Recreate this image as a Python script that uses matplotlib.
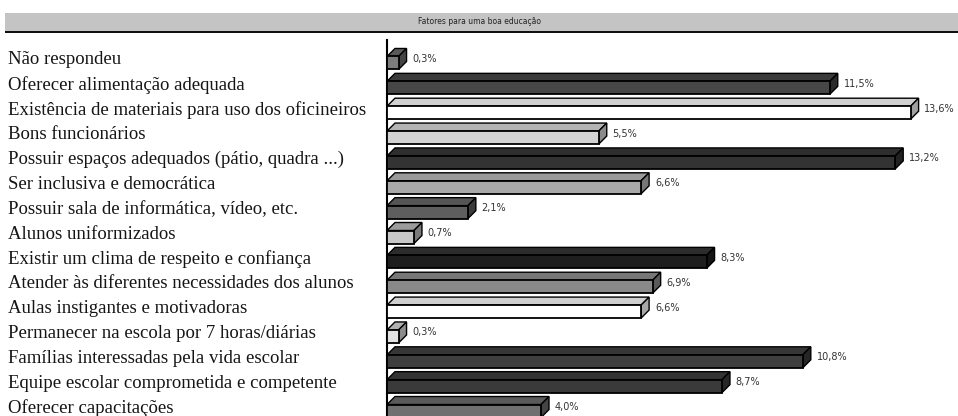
import matplotlib.pyplot as plt
from matplotlib.patches import Polygon, Rectangle
from matplotlib.transforms import blended_transform_factory

# Fatores apontados para uma boa educação (%)
fatores = [
    "Não respondeu",
    "Oferecer alimentação adequada",
    "Existência de materiais para uso dos oficineiros",
    "Bons funcionários",
    "Possuir espaços adequados (pátio, quadra ...)",
    "Ser inclusiva e democrática",
    "Possuir sala de informática, vídeo, etc.",
    "Alunos uniformizados",
    "Existir um clima de respeito e confiança",
    "Atender às diferentes necessidades dos alunos",
    "Aulas instigantes e motivadoras",
    "Permanecer na escola por 7 horas/diárias",
    "Famílias interessadas pela vida escolar",
    "Equipe escolar comprometida e competente",
    "Oferecer capacitações",
]
percentuais = [0.3, 11.5, 13.6, 5.5, 13.2, 6.6, 2.1, 0.7, 8.3, 6.9, 6.6, 0.3, 10.8, 8.7, 4.0]
rotulos = ["0,3%", "11,5%", "13,6%", "5,5%", "13,2%", "6,6%", "2,1%", "0,7%",
           "8,3%", "6,9%", "6,6%", "0,3%", "10,8%", "8,7%", "4,0%"]

cor_frente = ["#7c7c7c", "#474747", "#ffffff", "#d2d2d2", "#333333", "#a9a9a9", "#5e5e5e",
              "#c8c8c8", "#1e1e1e", "#898989", "#ffffff", "#e2e2e2", "#3e3e3e", "#3a3a3a", "#707070"]
cor_topo = ["#5a5a5a", "#3a3a3a", "#d0d0d0", "#b4b4b4", "#2e2e2e", "#9a9a9a", "#555555",
            "#9c9c9c", "#2c2c2c", "#777777", "#cfcfcf", "#b0b0b0", "#363636", "#333333", "#5a5a5a"]
cor_lado = ["#444444", "#2a2a2a", "#a0a0a0", "#8a8a8a", "#222222", "#777777", "#3c3c3c",
            "#7a7a7a", "#151515", "#5a5a5a", "#a8a8a8", "#8c8c8c", "#262626", "#262626", "#444444"]

W, H = 958, 416
fig = plt.figure(figsize=(W / 100, H / 100), dpi=100)

# faixa do título
fig.patches.append(Rectangle((5 / W, 1 - 31 / H), 1, 18 / H, transform=fig.transFigure,
                             facecolor="#c4c4c4", edgecolor="none"))
fig.patches.append(Rectangle((5 / W, 1 - 33 / H), 1, 2 / H, transform=fig.transFigure,
                             facecolor="#111111", edgecolor="none"))
fig.text(480 / W, 1 - 22 / H, "Fatores para uma boa educação", ha="center", va="center",
         fontsize=5.5, color="#222222")

ax_left, ax_top = 387, 40
ax = fig.add_axes([ax_left / W, 0, (W - ax_left) / W, (H - ax_top) / H])

px_por_pct = 38.5
px_por_linha = 24.86
y0 = 60  # centro da primeira linha em pixels
ax.set_xlim(0, (W - ax_left) / px_por_pct)
ax.set_ylim((H - y0) / px_por_linha, (ax_top - y0) / px_por_linha)

linhas = list(range(len(fatores)))
h = 13 / px_por_linha
dx = 8 / px_por_pct
dy = 8 / px_por_linha
desloc = 0.12
centros = [r + desloc for r in linhas]

ax.barh(centros, percentuais, height=h, color=cor_frente, edgecolor="black",
        linewidth=1.3, zorder=3)

for c, v, ct, cl, rot in zip(centros, percentuais, cor_topo, cor_lado, rotulos):
    topo, base = c - h / 2, c + h / 2
    ax.add_patch(Polygon([(0, topo), (v, topo), (v + dx, topo - dy), (dx, topo - dy)],
                         closed=True, facecolor=ct, edgecolor="black", linewidth=1.0, zorder=2))
    ax.add_patch(Polygon([(v, topo), (v + dx, topo - dy), (v + dx, base - dy), (v, base)],
                         closed=True, facecolor=cl, edgecolor="black", linewidth=1.0, zorder=2))
    ax.text(v + dx + 0.15, c - dy / 2, rot, ha="left", va="center", fontsize=7,
            color="#333333", family="DejaVu Sans", clip_on=False)

trans = blended_transform_factory(fig.transFigure, ax.transData)
for r, nome in zip(linhas, fatores):
    ax.text(8 / W, r, nome, transform=trans, ha="left", va="center",
            fontsize=13.5, family="Liberation Serif", color="#151515")

for s in ["top", "right", "bottom"]:
    ax.spines[s].set_visible(False)
ax.spines["left"].set_linewidth(1.5)
ax.set_xticks([])
ax.set_yticks([])
ax.patch.set_alpha(0)

fig.savefig("out.png", dpi=100)
